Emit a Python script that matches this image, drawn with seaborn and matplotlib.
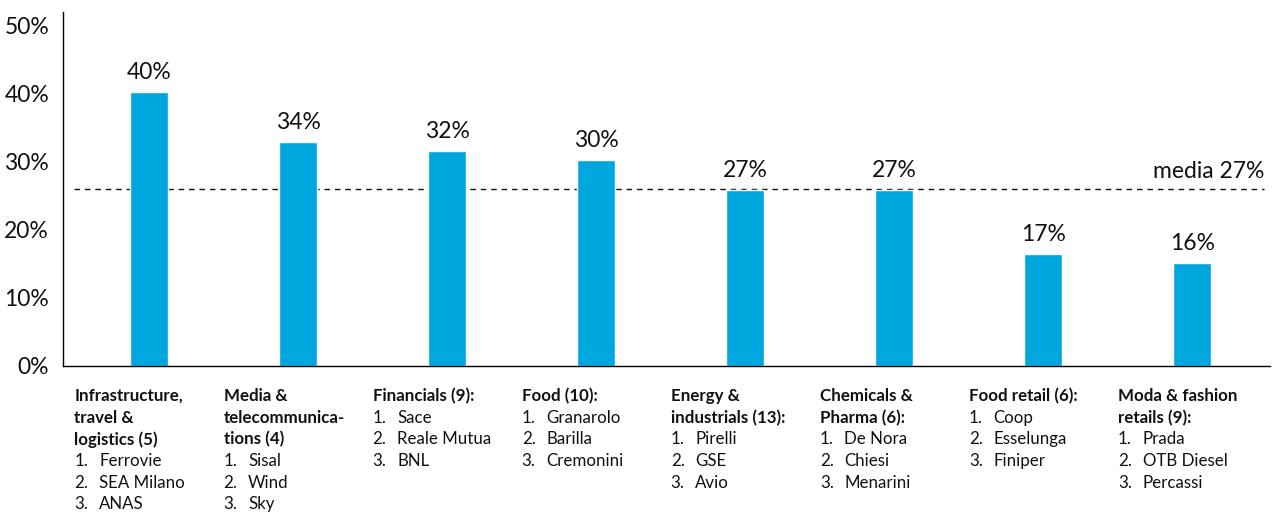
import matplotlib
matplotlib.use("Agg")
import matplotlib.pyplot as plt
import seaborn as sns
import pandas as pd

categories = ["Infrastructure", "Media", "Financials", "Food", "Energy", "Chemicals", "Food retail", "Moda"]
bar_values = [40.3, 32.9, 31.6, 30.3, 25.9, 25.9, 16.5, 15.1]
value_labels = ["40%", "34%", "32%", "30%", "27%", "27%", "17%", "16%"]
media_value = 26.0
media_label = "media 27%"
header_lines = [
    ["Infrastructure,", "travel &", "logistics (5)"],
    ["Media &", "telecommunica-", "tions (4)"],
    ["Financials (9):"],
    ["Food (10):"],
    ["Energy &", "industrials (13):"],
    ["Chemicals &", "Pharma (6):"],
    ["Food retail (6):"],
    ["Moda & fashion", "retails (9):"],
]
companies = [
    ["Ferrovie", "SEA Milano", "ANAS"],
    ["Sisal", "Wind", "Sky"],
    ["Sace", "Reale Mutua", "BNL"],
    ["Granarolo", "Barilla", "Cremonini"],
    ["Pirelli", "GSE", "Avio"],
    ["De Nora", "Chiesi", "Menarini"],
    ["Coop", "Esselunga", "Finiper"],
    ["Prada", "OTB Diesel", "Percassi"],
]
y_ticks = [0, 10, 20, 30, 40, 50]

sns.set_theme(style="white")
plt.rcParams['font.family'] = ['Lato', 'DejaVu Sans']

df = pd.DataFrame({"cat": categories, "val": bar_values})

fig = plt.figure(figsize=(12.76, 5.15), dpi=100)
ax = fig.add_axes([63/1276, 149/515, (1270-63)/1276, 354/515])
sns.barplot(data=df, x="cat", y="val", color="#00A6DE", width=0.255,
            saturation=1, ax=ax)

ax.set_ylim(0, 52)
ax.set_xlim(-0.577, 7.52)
ax.set_yticks(y_ticks)
ax.set_yticklabels([f"{t}%" for t in y_ticks], fontsize=16.5, color="#111111")
ax.set_xticks([])
ax.set_xlabel("")
ax.set_ylabel("")
for s in ["top", "right"]:
    ax.spines[s].set_visible(False)
for s in ["left", "bottom"]:
    ax.spines[s].set_color("#000000")
    ax.spines[s].set_linewidth(1.0)
ax.tick_params(axis="y", length=0, pad=10)

for i, (v, lab) in enumerate(zip(bar_values, value_labels)):
    ax.text(i, v + 1.3, lab, ha="center", va="bottom", fontsize=16.5, color="#111111")

ax.axhline(media_value, xmin=(-0.5 + 0.577) / 8.097, xmax=(7.48 + 0.577) / 8.097,
           color="#111111", linestyle=(0, (4, 3.5)), linewidth=1.0, zorder=0.5)
ax.text(7.48, media_value + 1.0, media_label, ha="right", va="bottom",
        fontsize=16.5, color="#111111")

trans = ax.get_xaxis_transform()
line_h = 0.0612
y0 = -0.062
for i in range(len(categories)):
    y = y0
    for h in header_lines[i]:
        ax.text(i - 0.5, y, h, transform=trans, ha="left", va="top",
                fontsize=12.2, fontweight="bold", color="#111111", clip_on=False)
        y -= line_h
    for k, c in enumerate(companies[i]):
        ax.text(i - 0.5, y, f"{k+1}.", transform=trans, ha="left", va="top",
                fontsize=12.2, color="#111111", clip_on=False)
        ax.text(i - 0.5 + 0.165, y, c, transform=trans, ha="left", va="top",
                fontsize=12.2, color="#111111", clip_on=False)
        y -= line_h

fig.savefig("out.png", dpi=100)
